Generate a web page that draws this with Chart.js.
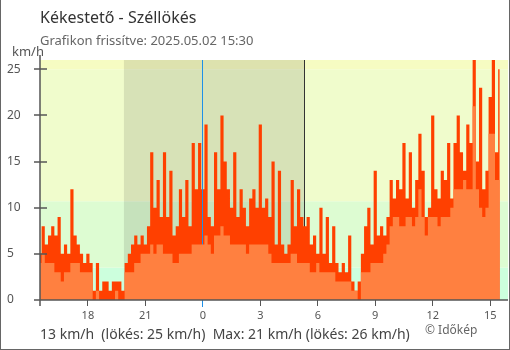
<!DOCTYPE html>
<html>
<head>
<meta charset="utf-8">
<script src="https://cdn.jsdelivr.net/npm/chart.js@4.4.1/dist/chart.umd.min.js"></script>
<style>
  body { margin: 0; background: #fff; }
  #wrap { position: relative; width: 510px; height: 350px; font-family: 'Noto Sans', sans-serif; }
  #frame { position: absolute; left: 0; top: 0; width: 510px; height: 350px; box-sizing: border-box;
           border: 1px solid #666; border-top: none; pointer-events: none; }
  .txt { position: absolute; white-space: pre; }
</style>
</head>
<body>
<div id="wrap">
  <canvas id="myChart" width="510" height="350"></canvas>
  <div class="txt" style="left:40px;top:7px;font-size:16px;line-height:20px;color:#333">Kékestető - Széllökés</div>
  <div class="txt" style="left:40px;top:32px;font-size:13px;line-height:16px;color:#666">Grafikon frissítve: 2025.05.02 15:30</div>
  <div class="txt" style="left:12px;top:43px;font-size:13px;line-height:16px;color:#555">km/h</div>
  <div class="txt" style="left:40px;top:325px;font-size:14px;line-height:18px;color:#444">13 km/h  (lökés: 25 km/h)  Max: 21 km/h (lökés: 26 km/h)</div>
  <div class="txt" style="left:425px;top:322px;font-size:12px;line-height:16px;color:#666">© Időkép</div>
  <div id="frame"></div>
</div>
<script>
// hours relative to midnight, one reading every 10 minutes from 15:30 to 15:30
const startHour = -8.5
const stepHours = 10 / 60
const sunset = -4.12
const sunrise = 5.32
const yTicks = [0, 5, 10, 15, 20, 25]
const bandLimits = [3.5, 10.7, 25]
const bandColors = ['#ccffdd', '#ddfcd2', '#f0fccc', '#f6fcc2']

const gust = [5,8,6,7,8,7,9,5,6,5, 12,7,6,5,4,5,4,1,4,1, 2,2,1,2,2,2,1,4,5,6,
  7,6,7,6,8,16,10,13,9,16, 9,14,7,8,12,9,13,8,17,12, 17,12,19,9,8,16,12,20,15,12,
  10,16,9,12,10,8,11,12,10,19, 10,11,9,15,6,14,6,5,6,13, 8,12,9,8,9,6,7,5,10,5,
  9,4,8,4,3,4,3,7,2,1, 2,5,8,10,6,14,7,8,7,9, 13,11,13,12,17,11,16,10,13,18,
  14,9,10,20,12,11,14,13,17,11, 17,20,16,14,19,17,26,15,23,12, 14,22,26,16,25]

const wind = [4,5,4,4,4,3,3,2,3,3, 4,4,4,3,3,3,3,0,1,0, 0,0,0,0,1,0,0,3,3,3,
  4,4,5,5,5,6,5,6,6,5, 5,5,4,4,5,5,5,5,6,6, 6,6,7,6,5,7,7,8,7,7,
  6,6,6,6,6,5,6,6,6,6, 6,6,5,4,4,4,4,4,4,5, 5,4,4,4,4,3,3,4,3,3,
  3,3,3,2,2,2,2,2,1,1, 0,3,3,3,4,4,4,4,5,6, 8,9,9,8,8,9,9,8,9,12,
  9,7,9,9,9,8,9,9,9,10, 12,12,12,13,12,12,21,12,10,9, 10,18,18,13,13]

const toPoints = arr => arr.map((v, i) => ({ x: startHour + i * stepHours, y: v }))

const backdrop = {
  id: 'backdrop',
  beforeDatasetsDraw(chart) {
    const { ctx, chartArea: a, scales: { x, y } } = chart
    ctx.save()
    let lo = 0
    for (let i = 0; i < bandColors.length; i++) {
      const hi = i < bandLimits.length ? bandLimits[i] : y.max
      const top = y.getPixelForValue(hi), bot = y.getPixelForValue(lo)
      ctx.fillStyle = bandColors[i]
      ctx.fillRect(a.left, top, a.right - a.left, bot - top)
      lo = hi
    }
    const n1 = x.getPixelForValue(sunset), n2 = x.getPixelForValue(sunrise)
    ctx.fillStyle = 'rgba(0,0,0,0.1)'
    ctx.fillRect(n1, a.top, n2 - n1, a.bottom - a.top)
    ctx.fillStyle = '#333'
    ctx.fillRect(Math.floor(n2), a.top, 1, a.bottom - a.top)
    ctx.restore()
  },
  afterDatasetDraw(chart, args) {
    // midnight line sits over the gusts but under the wind
    if (args.index !== 1) return
    const { ctx, chartArea: a, scales: { x } } = chart
    ctx.save()
    ctx.fillStyle = '#1e90e8'
    ctx.fillRect(Math.floor(x.getPixelForValue(0)), a.top, 1, a.bottom - a.top + 6)
    ctx.restore()
  },
  afterDatasetsDraw(chart) {
    const { ctx, chartArea: a, scales: { x, y } } = chart
    ctx.save()
    ctx.strokeStyle = '#555'
    ctx.lineWidth = 1.5
    ctx.beginPath()
    ctx.moveTo(a.left, a.top - 5); ctx.lineTo(a.left, a.bottom + 6)
    ctx.moveTo(a.left - 6, a.bottom); ctx.lineTo(a.right, a.bottom)
    yTicks.forEach(v => {
      const p = Math.round(y.getPixelForValue(v))
      ctx.moveTo(a.left - 6, p); ctx.lineTo(a.left + 7, p)
    })
    ctx.stroke()
    ctx.fillStyle = '#1e90e8'
    ctx.fillRect(Math.floor(x.getPixelForValue(0)), a.bottom + 1, 1, 6)
    ctx.restore()
  }
}

Chart.defaults.font.family = 'Noto Sans'

const ctx = document.getElementById('myChart')
const myChart = new Chart(ctx, {
  type: 'line',
  data: {
    datasets: [{
      label: 'Szél',
      data: toPoints(wind),
      stepped: 'middle',
      fill: 'origin',
      backgroundColor: '#ff8040',
      borderColor: 'rgba(0,0,0,0)',
      borderWidth: 0,
      pointRadius: 0,
      order: 0
    }, {
      label: 'Lökés',
      data: toPoints(gust),
      stepped: 'middle',
      fill: 'origin',
      backgroundColor: '#ff4000',
      borderColor: 'rgba(0,0,0,0)',
      borderWidth: 0,
      pointRadius: 0,
      order: 1
    }]
  },
  options: {
    responsive: false,
    animation: false,
    layout: { padding: { top: 60, right: 2, left: 7, bottom: 0 } },
    plugins: { legend: { display: false }, tooltip: { enabled: false } },
    scales: {
      x: {
        type: 'linear',
        min: startHour,
        max: 15.93,
        afterFit: s => { s.height = 50 },
        border: { display: false },
        grid: { drawOnChartArea: false, drawTicks: true, tickLength: 6, color: '#555' },
        ticks: {
          stepSize: 3, includeBounds: false, autoSkip: false, maxRotation: 0,
          padding: 3, color: '#555', font: { size: 11 },
          callback: v => ((v % 24) + 24) % 24
        }
      },
      y: {
        min: 0,
        max: 26,
        afterFit: s => { s.width = 33 },
        border: { display: false },
        grid: { display: false },
        ticks: { stepSize: 5, includeBounds: false, crossAlign: 'far', color: '#555', font: { size: 12 } }
      }
    }
  },
  plugins: [backdrop]
})
</script>
</body>
</html>
